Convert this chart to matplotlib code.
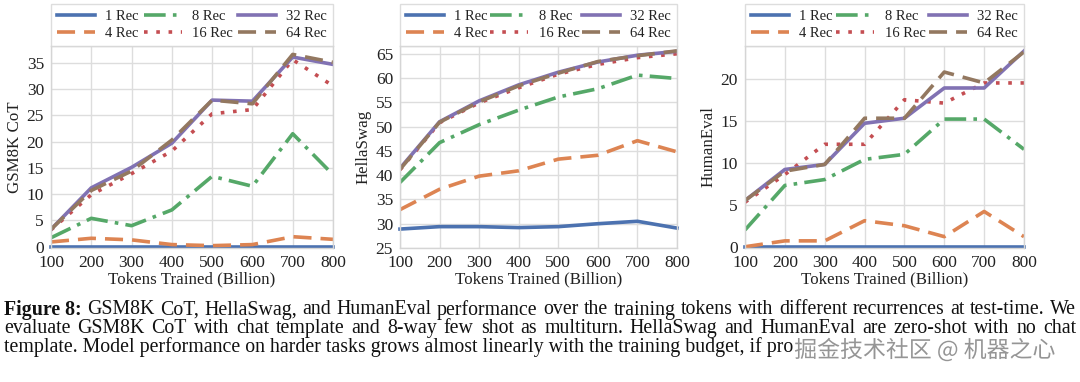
import matplotlib; matplotlib.use("Agg")
import matplotlib.pyplot as plt
import matplotlib.patheffects as pe
import numpy as np

tokens = [100, 200, 300, 400, 500, 600, 700, 800]
rec_labels = ["1 Rec", "4 Rec", "8 Rec", "16 Rec", "32 Rec", "64 Rec"]

gsm8k = {
    "1 Rec": [0.0, 0.0, 0.0, 0.0, 0.0, 0.0, 0.0, 0.0],
    "4 Rec": [0.9, 1.6, 1.3, 0.4, 0.2, 0.4, 1.9, 1.4],
    "8 Rec": [1.7, 5.4, 4.0, 7.0, 13.4, 11.5, 21.5, 13.7],
    "16 Rec": [3.2, 9.9, 13.9, 18.2, 25.3, 26.1, 35.6, 30.6],
    "32 Rec": [3.3, 11.2, 15.1, 19.7, 27.9, 27.7, 36.1, 34.7],
    "64 Rec": [3.3, 10.7, 14.4, 20.3, 27.9, 27.2, 36.6, 35.1],
}
hellaswag = {
    "1 Rec": [28.9, 29.4, 29.4, 29.2, 29.4, 30.0, 30.5, 29.1],
    "4 Rec": [32.9, 37.1, 39.8, 40.9, 43.3, 44.1, 47.1, 44.8],
    "8 Rec": [38.5, 46.7, 50.4, 53.4, 56.1, 57.8, 60.6, 59.9],
    "16 Rec": [41.1, 50.8, 54.9, 58.0, 60.8, 62.8, 64.2, 65.0],
    "32 Rec": [41.4, 51.0, 55.3, 58.6, 61.2, 63.3, 64.7, 65.5],
    "64 Rec": [41.2, 50.9, 55.1, 58.4, 61.0, 63.4, 64.6, 65.6],
}
humaneval = {
    "1 Rec": [0.0, 0.0, 0.0, 0.0, 0.0, 0.0, 0.0, 0.0],
    "4 Rec": [0.0, 0.7, 0.7, 3.1, 2.5, 1.2, 4.2, 1.2],
    "8 Rec": [2.0, 7.3, 8.0, 10.4, 11.0, 15.2, 15.2, 11.6],
    "16 Rec": [5.3, 8.6, 12.2, 12.2, 17.5, 17.1, 19.5, 19.5],
    "32 Rec": [5.5, 9.2, 9.8, 14.7, 15.3, 18.9, 18.9, 23.3],
    "64 Rec": [5.5, 9.0, 9.8, 15.3, 15.3, 20.8, 19.5, 23.2],
}

panels = [("GSM8K CoT", gsm8k, (-0.25, 38.2), [0, 5, 10, 15, 20, 25, 30, 35]),
          ("HellaSwag", hellaswag, (25, 66.6), [25, 30, 35, 40, 45, 50, 55, 60, 65]),
          ("HumanEval", humaneval, (-0.15, 23.9), [0, 5, 10, 15, 20])]

colors = ["#4C72B0", "#DD8452", "#55A868", "#C44E52", "#8172B3", "#937860"]
styles = ["-", (0, (5, 2.5)), (0, (6, 2, 1, 2)), (0, (1, 2.4)), "-", (0, (5, 2.5))]

plt.rcParams["font.family"] = ["Liberation Serif", "DejaVu Serif"]
fig = plt.figure(figsize=(10.8, 3.82), dpi=100)
W, H = 1080, 382
boxes = [(51, 282), (400, 277), (745, 279)]
top, bot = 46, 248

for (x0, w), (ylab, data, ylim, yt) in zip(boxes, panels):
    ax = fig.add_axes([x0 / W, 1 - bot / H, w / W, (bot - top) / H])
    for lab, c, ls in zip(rec_labels, colors, styles):
        ax.plot(tokens, data[lab], color=c, ls=ls, lw=2.6, label=lab, clip_on=(lab != "1 Rec"))
    ax.set_xlim(100, 800); ax.set_ylim(*ylim)
    ax.set_xticks(tokens); ax.set_yticks(yt)
    ax.grid(True, color="#dddddd", lw=1.0); ax.set_axisbelow(True)
    for s in ax.spines.values():
        s.set_color("#d5d5d5"); s.set_linewidth(1.0)
    ax.tick_params(length=0, pad=5, labelsize=12.5, colors="#222222")
    ax.set_xlabel("Tokens Trained (Billion)", fontsize=12.2, labelpad=0, color="#222222")
    ax.set_ylabel(ylab, fontsize=12.2, labelpad=3, color="#222222")
    leg = ax.legend(ncol=3, loc="lower left", bbox_to_anchor=(0, 1.0, 1, 0.2), mode="expand",
                    borderaxespad=0, fontsize=10.5, handlelength=2.6, frameon=True,
                    labelspacing=0.25, columnspacing=1.0, handletextpad=0.7, borderpad=0.4,
                    fancybox=False)
    leg.get_frame().set_edgecolor("#d5d5d5"); leg.get_frame().set_linewidth(1.0)
    for t in leg.get_texts():
        t.set_color("#222222")

# caption, justified lines
cap_lines = [
    ["Figure 8:", "GSM8K", "CoT,", "HellaSwag,", "and", "HumanEval", "performance", "over", "the", "training",
     "tokens", "with", "different", "recurrences", "at", "test-time.", "We"],
    ["evaluate", "GSM8K", "CoT", "with", "chat", "template", "and", "8-way", "few", "shot", "as", "multiturn.",
     "HellaSwag", "and", "HumanEval", "are", "zero-shot", "with", "no", "chat"],
]
last_line = ("template. Model performance on harder tasks grows almost linearly with the training budget, "
             "if pro")
cap_y = [310, 328.5, 347]
fs = 14.3
fig.canvas.draw()
r = fig.canvas.get_renderer()
xl, xr = 4, 1076
for words, yy in zip(cap_lines, cap_y):
    ts = []
    for wd in words:
        bold = wd.startswith("Figure")
        ts.append(fig.text(0, 1 - yy / H, wd, fontsize=fs, va="center", ha="left",
                           fontweight="bold" if bold else "normal", color="#111111"))
    widths = [t.get_window_extent(r).width for t in ts]
    gap = (xr - xl - sum(widths)) / (len(ts) - 1)
    x = xl
    for t, wd in zip(ts, widths):
        t.set_x(x / W); x += wd + gap
last = fig.text(xl / W, 1 - cap_y[2] / H, last_line, fontsize=fs, va="center", ha="left", color="#111111")
lx = last.get_window_extent(r).x1

wm = fig.text((lx + 1) / W, 1 - 350 / H, "掘金技术社区 @ 机器之心", fontsize=16.5, ha="left", va="center",
              color="#959595", family=["Noto Sans CJK SC", "DejaVu Sans"])
wm.set_path_effects([pe.withStroke(linewidth=2.5, foreground="white")])

fig.savefig("out.png", dpi=100)
